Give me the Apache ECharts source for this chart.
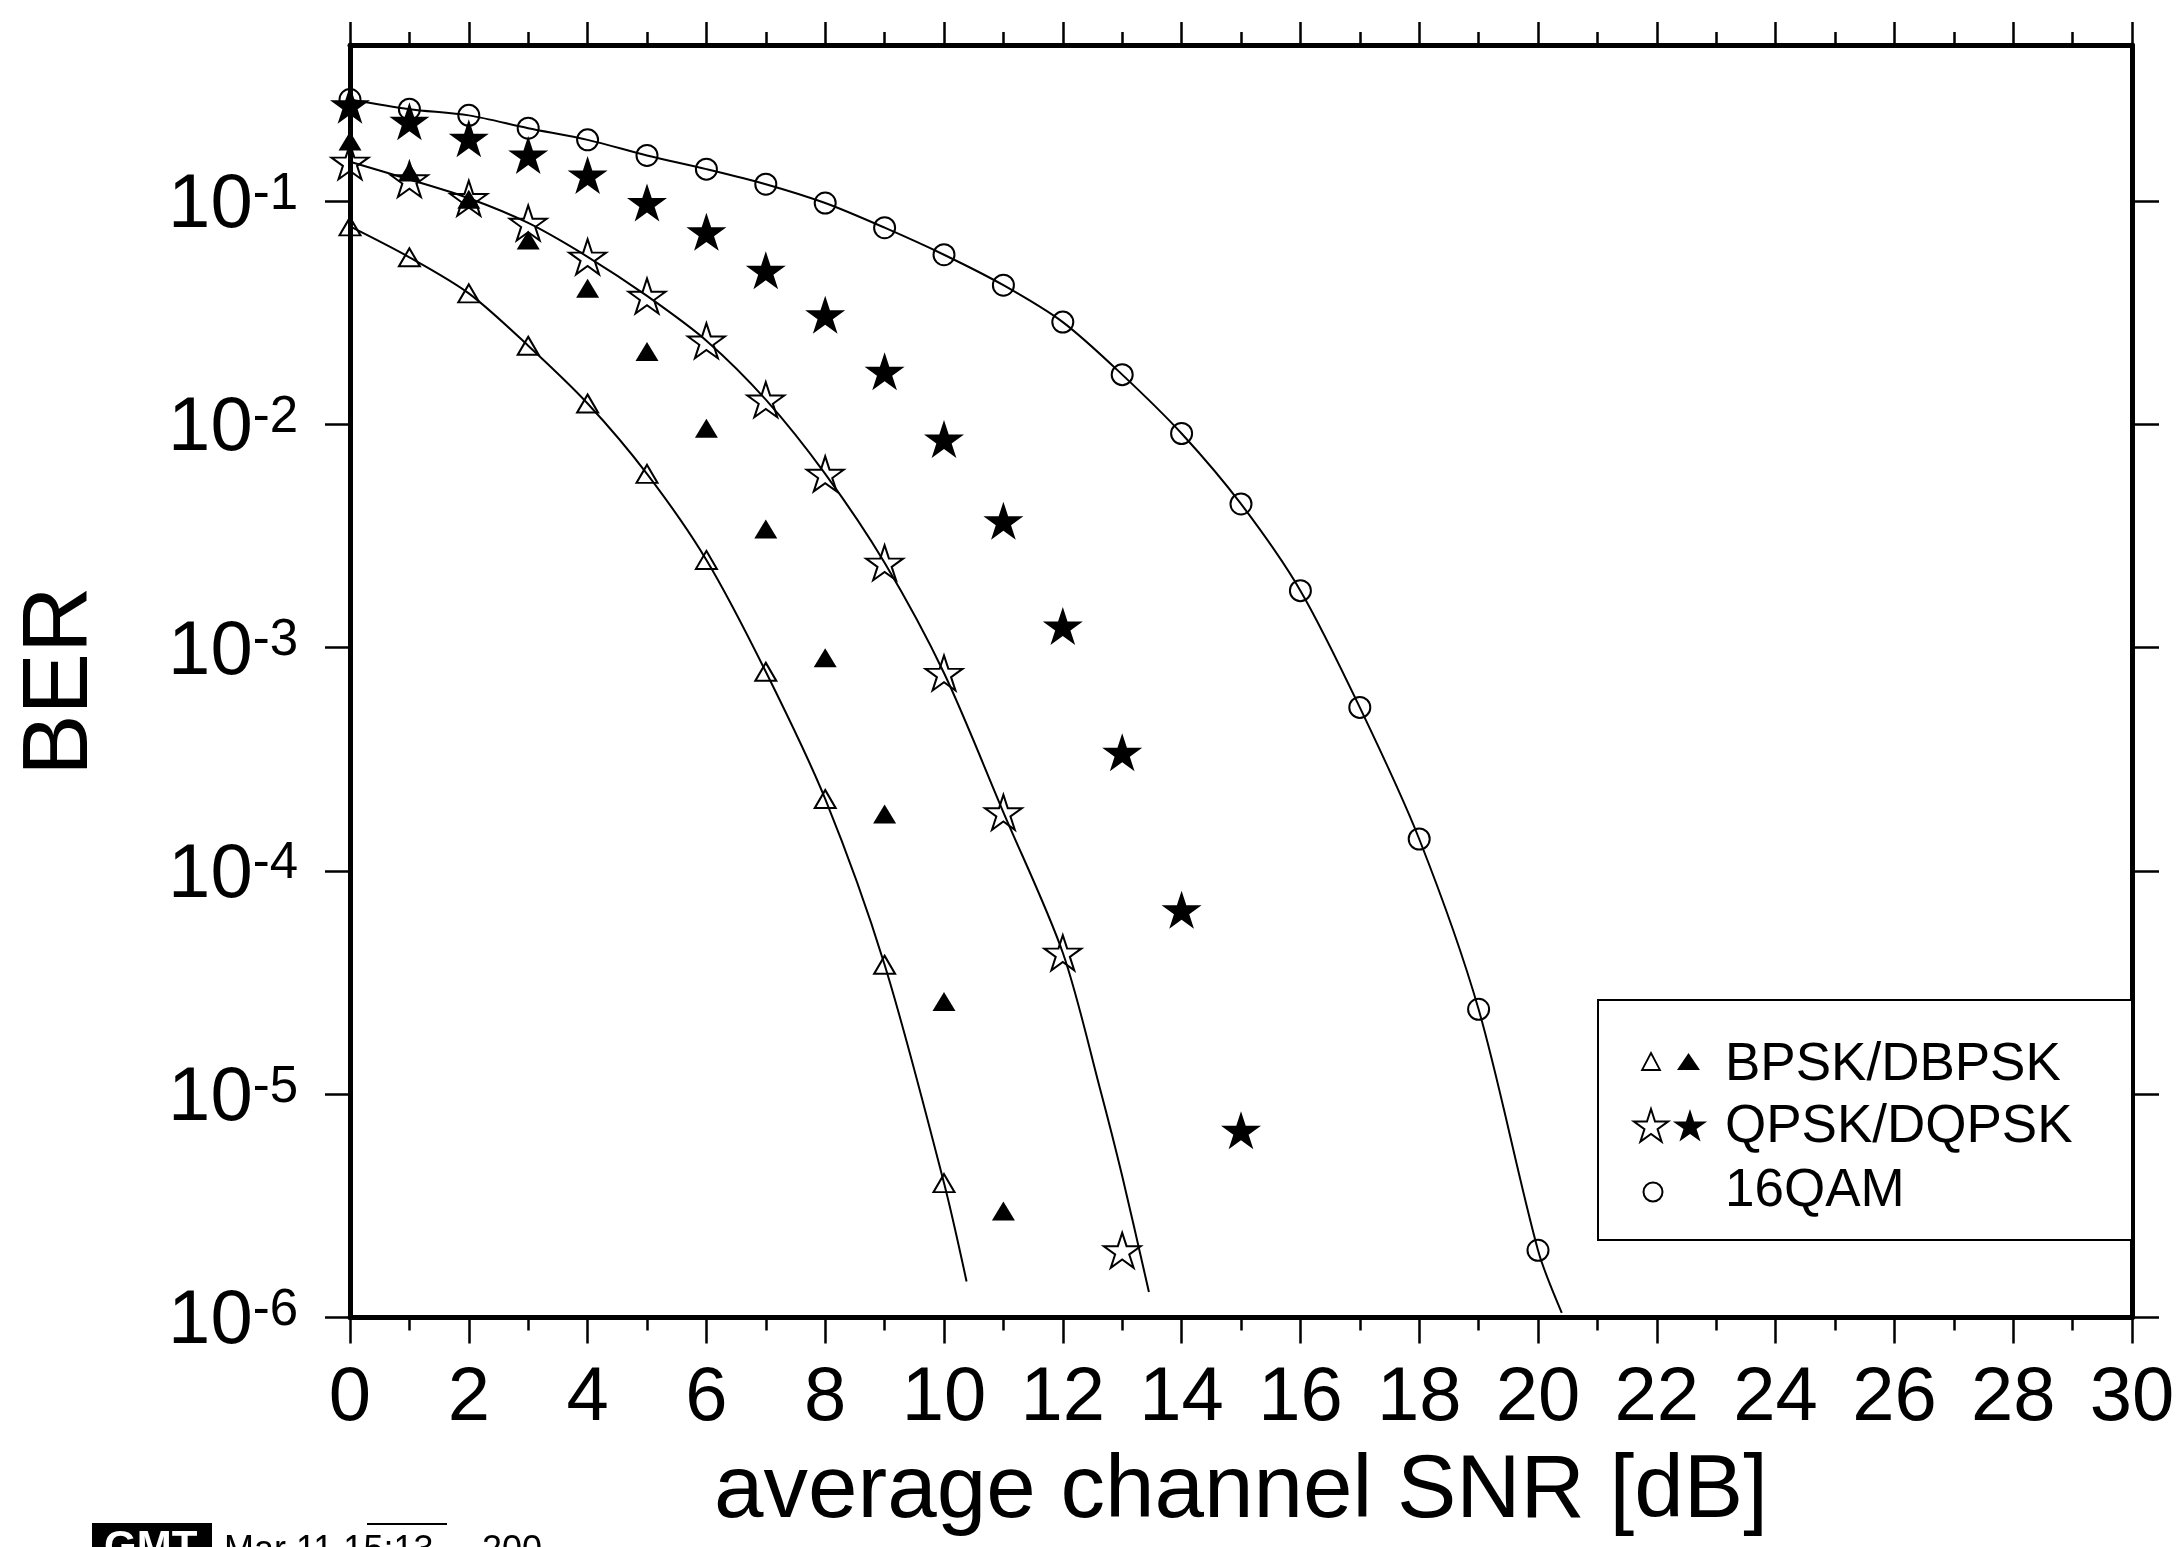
<!DOCTYPE html>
<html>
<head>
<meta charset="utf-8">
<title>BER vs average channel SNR</title>
<script src="https://cdn.jsdelivr.net/npm/echarts@6/dist/echarts.min.js"></script>
<style>
  html, body { margin: 0; padding: 0; background: #fff; }
  #chart { width: 2178px; height: 1547px; }
</style>
</head>
<body>
<div id="chart"></div>
<script>
// SNR points in dB (marker positions)
const snr = [0, 1, 2, 3, 4, 5, 6, 7, 8, 9, 10, 11, 12, 13, 14, 15, 16, 17, 18, 19, 20];

// BPSK (open triangles, with reference curve)
const bpsk = [0.077, 0.056, 0.0386, 0.0225, 0.0124, 0.006, 0.00247, 7.8e-4, 2.1e-4, 3.8e-5, 4.0e-6];
// DBPSK (filled triangles)
const dbpsk = [0.186, 0.135, 0.102, 0.067, 0.0407, 0.0212, 0.0096, 0.0034, 9.0e-4, 1.8e-4, 2.6e-5, 3.0e-6];
// QPSK (open stars, with reference curve)
const qpsk = [0.15, 0.125, 0.103, 0.0798, 0.0563, 0.0376, 0.0237, 0.0129, 0.006, 0.0024, 7.7e-4, 1.83e-4, 4.3e-5, 2.0e-6];
// DQPSK (filled stars)
const dqpsk = [0.27, 0.228, 0.191, 0.161, 0.131, 0.0986, 0.0728, 0.049, 0.031, 0.0173, 0.0086, 0.0037, 0.00125, 3.4e-4, 6.7e-5, 6.9e-6];
// 16QAM (open circles, with reference curve)
const qam16 = [0.285, 0.258, 0.242, 0.212, 0.188, 0.16, 0.139, 0.119, 0.098, 0.076, 0.0575, 0.042, 0.0287, 0.0167, 0.0091, 0.0044, 0.0018, 5.4e-4, 1.39e-4, 2.4e-5, 2.0e-6];

// lower ends of the reference curves, [SNR dB, BER]
const bpskTail = [[10.38, 1.45e-6]];
const qpskTail = [[12.63, 1.05e-5], [13.0, 4.3e-6], [13.45, 1.3e-6]];
const qamTail = [[20.4, 1.05e-6]];

// decade ticks of the BER axis
const berTicks = [1e-6, 1e-5, 1e-4, 1e-3, 1e-2, 1e-1];

// legend rows
const legendLabels = ['BPSK/DBPSK', 'QPSK/DQPSK', '16QAM'];

const FONT = '"Liberation Sans", Arial, Helvetica, sans-serif';
const BLACK = '#000';

// five-pointed star outline, as [x, y] points around (cx, cy)
function starPoints(cx, cy, r) {
  const pts = [];
  for (let k = 0; k < 10; k++) {
    const rr = k % 2 === 0 ? r : r * 0.382;
    const a = -Math.PI / 2 + k * Math.PI / 5;
    pts.push([cx + rr * Math.cos(a), cy + rr * Math.sin(a)]);
  }
  return pts;
}
function starPath() {
  return 'path://' + starPoints(0, 0, 10)
    .map((p, k) => (k ? 'L' : 'M') + p[0].toFixed(3) + ',' + p[1].toFixed(3)).join('') + 'Z';
}
const STAR = starPath();

const pairs = vals => vals.map((v, i) => [snr[i], v]);

const hollow = { color: 'rgba(0,0,0,0)', borderColor: BLACK, borderWidth: 2, opacity: 1 };
const solid = { color: BLACK, borderWidth: 0, opacity: 1 };

function curve(points) {
  return {
    type: 'line', data: points, showSymbol: false, symbol: 'none',
    smooth: 0.3, lineStyle: { color: BLACK, width: 2 }, silent: true, z: 1
  };
}
function marks(vals, symbol, size, style) {
  return {
    type: 'scatter', data: pairs(vals), symbol: symbol, symbolSize: size,
    itemStyle: style, emphasis: { disabled: true }, silent: true, z: 3
  };
}

const xAxisBase = {
  type: 'value', min: 0, max: 30, interval: 2,
  axisLine: { show: true, onZero: false, lineStyle: { color: BLACK, width: 5 } },
  minorTick: { show: true, splitNumber: 2, length: 13, lineStyle: { color: BLACK, width: 2.5 } },
  splitLine: { show: false }, minorSplitLine: { show: false }
};
const yAxisBase = {
  type: 'log', logBase: 10, min: 1e-6, max: 0.5,
  axisLine: { show: true, onZero: false, lineStyle: { color: BLACK, width: 5 } },
  splitLine: { show: false }, minorTick: { show: false }, minorSplitLine: { show: false }
};

const legendFont = '53px ' + FONT;
const stampFont = '36px ' + FONT;

const option = {
  animation: false,
  backgroundColor: '#fff',
  grid: { left: 350, top: 45, width: 1782, height: 1272.5, containLabel: false, outerBoundsMode: 'none' },
  xAxis: [
    Object.assign({}, xAxisBase, {
      position: 'bottom',
      axisTick: { show: true, inside: false, length: 26, lineStyle: { color: BLACK, width: 2.5 } },
      axisLabel: { show: true, margin: 44, color: BLACK, fontSize: 76, fontFamily: FONT },
      name: 'average channel SNR [dB]', nameLocation: 'middle', nameGap: 130,
      nameTextStyle: { color: BLACK, fontSize: 89, fontFamily: FONT }
    }),
    Object.assign({}, xAxisBase, {
      position: 'top',
      axisTick: { show: true, inside: false, length: 23, lineStyle: { color: BLACK, width: 2.5 } },
      axisLabel: { show: false }
    })
  ],
  yAxis: [
    Object.assign({}, yAxisBase, {
      position: 'left',
      axisTick: { show: true, inside: false, length: 25, customValues: berTicks, lineStyle: { color: BLACK, width: 2.5 } },
      axisLabel: {
        show: true, customValues: berTicks, margin: 52, padding: [10, 0, 0, 0],
        formatter: v => '{b|10}{s|' + Math.round(Math.log10(v)) + '}',
        rich: {
          b: { fontSize: 76, lineHeight: 74, fontFamily: FONT, color: BLACK },
          s: { fontSize: 51, lineHeight: 40, verticalAlign: 'top', fontFamily: FONT, color: BLACK }
        }
      },
      name: 'BER', nameLocation: 'middle', nameRotate: 90, nameGap: 242,
      nameTextStyle: { color: BLACK, fontSize: 92, fontFamily: FONT }
    }),
    Object.assign({}, yAxisBase, {
      position: 'right',
      axisTick: { show: true, inside: false, length: 27, customValues: berTicks, lineStyle: { color: BLACK, width: 2.5 } },
      axisLabel: { show: false }
    })
  ],
  series: [
    curve(pairs(bpsk).concat(bpskTail)),
    curve(pairs(qpsk.slice(0, 13)).concat(qpskTail)),
    curve(pairs(qam16).concat(qamTail)),
    marks(bpsk, 'triangle', [21, 18], hollow),
    marks(dbpsk, 'triangle', [23, 19], solid),
    marks(qpsk, STAR, [37, 35], hollow),
    marks(dqpsk, STAR, [40, 38], solid),
    marks(qam16, 'circle', 21, hollow)
  ],
  graphic: {
    elements: [
      // legend frame
      { type: 'rect', shape: { x: 1598, y: 1000, width: 534, height: 240 },
        style: { fill: '#fff', stroke: BLACK, lineWidth: 2 }, z: 5, silent: true },
      // legend row 1: triangles
      { type: 'polygon', shape: { points: [[1651, 1053], [1660, 1070], [1642, 1070]] },
        style: { fill: 'none', stroke: BLACK, lineWidth: 1.8 }, z: 6 },
      { type: 'polygon', shape: { points: [[1688.5, 1053], [1700, 1070], [1677, 1070]] },
        style: { fill: BLACK }, z: 6 },
      // legend row 2: stars
      { type: 'polygon', shape: { points: starPoints(1651, 1127, 18) },
        style: { fill: 'none', stroke: BLACK, lineWidth: 2 }, z: 6 },
      { type: 'polygon', shape: { points: starPoints(1690, 1127, 18) },
        style: { fill: BLACK }, z: 6 },
      // legend row 3: circle
      { type: 'circle', shape: { cx: 1653, cy: 1192, r: 9.5 },
        style: { fill: 'none', stroke: BLACK, lineWidth: 2 }, z: 6 },
      { type: 'text', x: 1725, y: 1065.5, z: 6,
        style: { text: legendLabels[0], fill: BLACK, font: legendFont, textAlign: 'left', textVerticalAlign: 'middle' } },
      { type: 'text', x: 1725, y: 1127, z: 6,
        style: { text: legendLabels[1], fill: BLACK, font: legendFont, textAlign: 'left', textVerticalAlign: 'middle' } },
      { type: 'text', x: 1725, y: 1191, z: 6,
        style: { text: legendLabels[2], fill: BLACK, font: legendFont, textAlign: 'left', textVerticalAlign: 'middle' } },
      // GMT time stamp in the lower left corner
      { type: 'rect', shape: { x: 92, y: 1523, width: 120, height: 40 }, style: { fill: BLACK }, z: 6 },
      { type: 'text', x: 104, y: 1527.5, z: 7,
        style: { text: 'GMT', fill: '#fff', font: 'bold 42px ' + FONT, textAlign: 'left', textVerticalAlign: 'top' } },
      { type: 'text', x: 224, y: 1533, z: 7,
        style: { text: 'Mar 11 15:13', fill: BLACK, font: stampFont, textAlign: 'left', textVerticalAlign: 'top' } },
      { type: 'text', x: 482, y: 1533, z: 7,
        style: { text: '200', fill: BLACK, font: stampFont, textAlign: 'left', textVerticalAlign: 'top' } },
      { type: 'line', shape: { x1: 367, y1: 1524, x2: 447, y2: 1524 }, style: { stroke: BLACK, lineWidth: 2 }, z: 7 }
    ]
  }
};

const chart = echarts.init(document.getElementById('chart'), null, { renderer: 'canvas' });
chart.setOption(option);
</script>
</body>
</html>
